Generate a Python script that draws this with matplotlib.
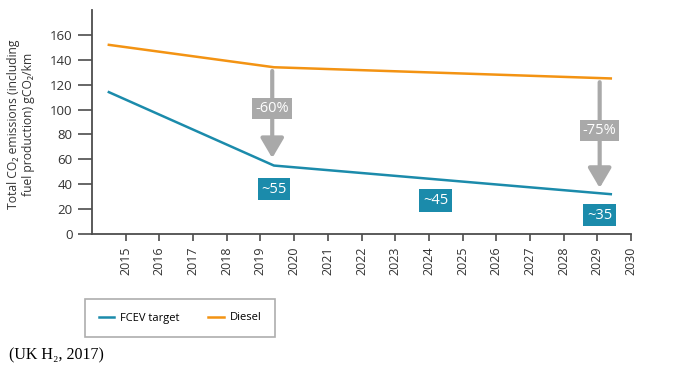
import matplotlib
matplotlib.use("Agg")
import matplotlib.pyplot as plt

# data
years = [2014.5, 2019.4, 2029.4]
fcev = [114, 55, 32]
diesel = [152, 134, 125]
xticks = list(range(2015, 2031))
yticks = list(range(0, 161, 20))

# annotations: (x, y_from, y_to, label, label_y)
drops = [(2019.35, 131, 61, "-60%", 101), (2029.07, 122, 37, "-75%", 83)]
values = [(2019.4, 36, "~55"), (2024.2, 27, "~45"), (2029.07, 15, "~35")]

teal = "#1b8bab"
orange = "#f39313"
grey = "#a9a9a9"
axcol = "#4d4d4d"

plt.rcParams["font.family"] = ["Open Sans", "DejaVu Sans"]

fig = plt.figure(figsize=(6.84, 3.71), dpi=100)
ax = fig.add_axes([92 / 684, 1 - 234 / 371, 539 / 684, 224 / 371])

ax.plot(years, fcev, color=teal, lw=1.8, label="FCEV target")
ax.plot(years, diesel, color=orange, lw=1.8, label="Diesel")

for x, y0, y1, lab, ly in drops:
    ax.annotate("", xy=(x, y1), xytext=(x, y0),
                arrowprops=dict(arrowstyle="-|>,head_width=0.5,head_length=0.85",
                                color=grey, lw=3, mutation_scale=14,
                                shrinkA=0, shrinkB=0))
    ax.text(x, ly, lab, ha="center", va="center", color="white", fontsize=10.5,
            bbox=dict(boxstyle="square,pad=0.2", fc=grey, ec="none"))

for x, y, lab in values:
    ax.text(x, y, lab, ha="center", va="center", color="white", fontsize=10.5,
            bbox=dict(boxstyle="square,pad=0.25", fc=teal, ec="none"))

ax.set_xlim(2014, 2030)
ax.set_ylim(0, 180)
ax.set_xticks(xticks)
ax.set_xticklabels([str(y) for y in xticks], rotation=90, fontsize=9, color="#333333")
ax.set_yticks(yticks)
ax.set_yticklabels([str(y) for y in yticks], fontsize=9.5, color="#333333")
ax.tick_params(axis="y", direction="out", length=10, width=1.2, color=axcol, pad=4)
ax.tick_params(axis="x", direction="out", length=5, width=1.2, color=axcol, pad=4)
for s in ["top", "right"]:
    ax.spines[s].set_visible(False)
for s in ["left", "bottom"]:
    ax.spines[s].set_color(axcol)
    ax.spines[s].set_linewidth(1.3)

fig.text(21 / 684, 1 - 124 / 371,
         "Total CO\u2082 emissions (including\nfuel production) gCO\u2082/km",
         rotation=90, ha="center", va="center", fontsize=8.7, color="#333333",
         linespacing=1.15)

leg = ax.legend(loc="center", bbox_to_anchor=(180 / 684, 1 - 318 / 371),
                bbox_transform=fig.transFigure, ncol=2, fontsize=8,
                frameon=True, fancybox=False, handlelength=1.4,
                columnspacing=2.6, borderpad=1.2, handletextpad=0.5)
leg.get_frame().set_edgecolor("#9a9a9a")
leg.get_frame().set_linewidth(1.2)

fig.text(9 / 684, 1 - 355 / 371, "(UK H\u2082, 2017)", ha="left", va="center",
         fontsize=11.5, family=["Liberation Serif", "DejaVu Serif"])

fig.savefig("out.png", dpi=100)
